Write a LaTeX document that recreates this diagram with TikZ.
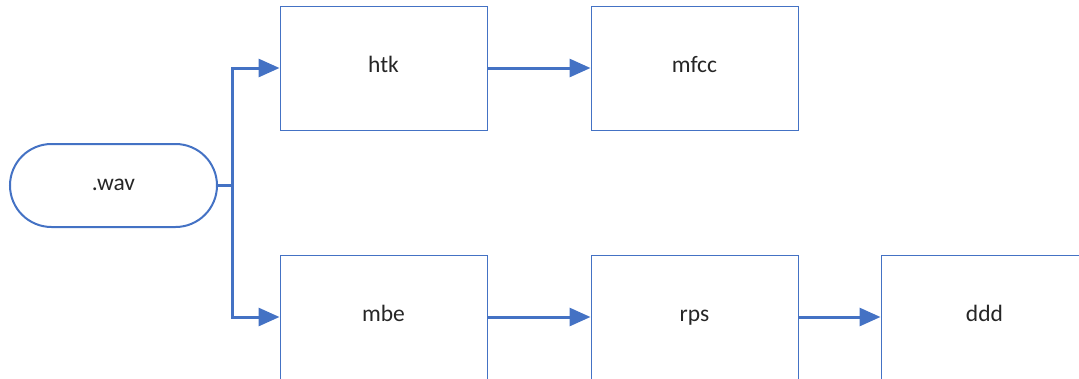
\documentclass[tikz,border=0pt]{standalone}
\usepackage{fontspec}
\setmainfont{Carlito}
\usetikzlibrary{arrows.meta,shapes.misc}
\definecolor{office}{HTML}{4472C4}
\begin{document}
\begin{tikzpicture}[x=1pt,y=-1pt,
  stepbox/.style={draw=office,line width=1pt,rectangle,minimum width=207pt,minimum height=124pt,inner sep=0pt,font=\fontsize{23.5}{28}\selectfont,text=black!85,text height=1.9ex,text depth=0pt},
  termbox/.style={draw=office,line width=2pt,rounded rectangle,minimum width=207pt,minimum height=83pt,inner sep=0pt,font=\fontsize{23.5}{28}\selectfont,text=black!85,text height=1.9ex,text depth=0pt},
  conn/.style={draw=office,line width=3pt},
  arr/.style={conn,-{Triangle[length=21pt,width=18pt]}}]
\useasboundingbox (0,0) rectangle (1079,378);
\node[termbox] (wav) at (113.5,185.5) {.wav};
\node[stepbox] (htk) at (383.5,68) {htk};
\node[stepbox] (mfcc) at (694.5,68) {mfcc};
\node[stepbox] (mbe) at (383.5,317) {mbe};
\node[stepbox] (rps) at (694.5,317) {rps};
\node[stepbox] (ddd) at (984.5,317) {ddd};
\coordinate (j) at (232,185.5);
\draw[conn] (wav.east) -- (j);
\draw[arr] (j) |- (htk.west);
\draw[arr] (j) |- (mbe.west);
\draw[arr] (htk.east) -- (mfcc.west);
\draw[arr] (mbe.east) -- (rps.west);
\draw[arr] (rps.east) -- (ddd.west);
\end{tikzpicture}
\end{document}
